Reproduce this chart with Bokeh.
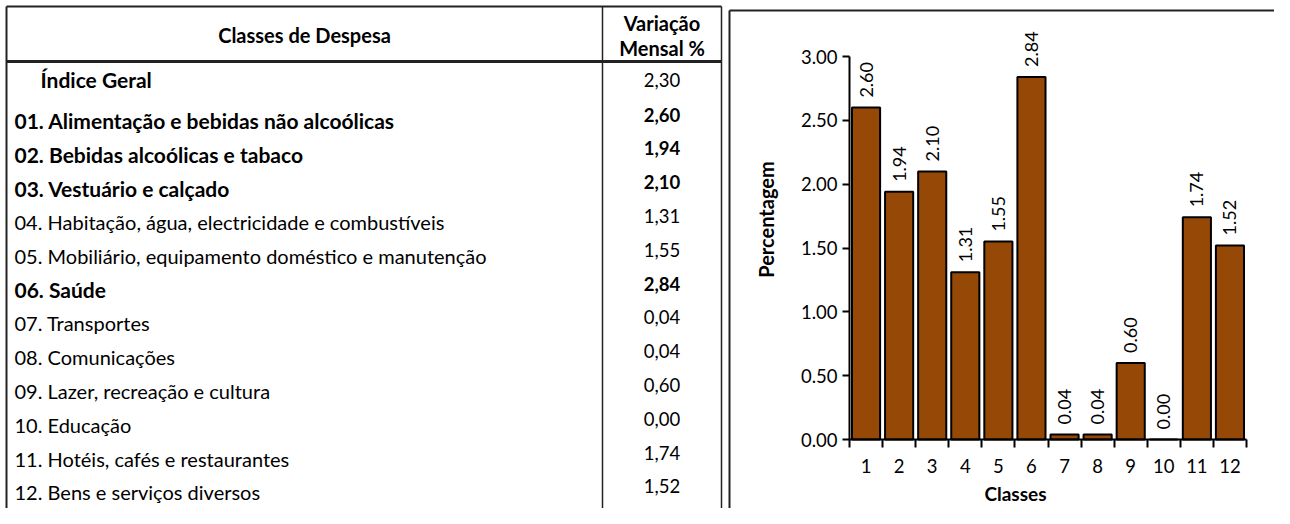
import numpy as np
from bokeh.plotting import figure
from bokeh.models import Range1d, LinearAxis, FixedTicker, ColumnDataSource, PrintfTickFormatter
from bokeh.core.properties import value
from bokeh.embed import file_html
from bokeh.resources import INLINE

# ---------------- data ----------------
header_left = "Classes de Despesa"
header_right = ["Variação", "Mensal %"]
row_labels = [
    "Índice Geral",
    "01. Alimentação e bebidas não alcoólicas",
    "02. Bebidas alcoólicas e tabaco",
    "03. Vestuário e calçado",
    "04. Habitação, água, electricidade e combustíveis",
    "05. Mobiliário, equipamento doméstico e manutenção",
    "06. Saúde",
    "07. Transportes",
    "08. Comunicações",
    "09. Lazer, recreação e cultura",
    "10. Educação",
    "11. Hotéis, cafés e restaurantes",
    "12. Bens e serviços diversos",
]
row_values = [2.30, 2.60, 1.94, 2.10, 1.31, 1.55, 2.84, 0.04, 0.04, 0.60, 0.00, 1.74, 1.52]
label_bold = [True, True, True, True, False, False, True, False, False, False, False, False, False]
value_bold = [False, True, True, True, False, False, True, False, False, False, False, False, False]

classes = ["1", "2", "3", "4", "5", "6", "7", "8", "9", "10", "11", "12"]
class_values = [2.60, 1.94, 2.10, 1.31, 1.55, 2.84, 0.04, 0.04, 0.60, 0.00, 1.74, 1.52]
y_ticks = [0.0, 0.5, 1.0, 1.5, 2.0, 2.5, 3.0]
x_title = "Classes"
y_title = "Percentagem"

# ---------------- layout (picture pixels) ----------------
W, H = 1274, 508
PX0, PY0 = 0, 0
AX_X0, AX_X1 = 849, 1246      # x of category axis start/end
AX_Y0, AX_Y3 = 439, 56        # y of 0.00 and 3.00
n = len(classes)
ux = (AX_X1 - AX_X0) / n
uy = (AX_Y0 - AX_Y3) / 3.0
x_start = 0.5 - (AX_X0 - PX0) / ux
x_end = n + 0.5 + (PX0 + W - AX_X1) / ux
y_start = -(PY0 + H - AX_Y0) / uy
y_end = 3.0 + (AX_Y3 - PY0) / uy

FONT = "Lato"
BROWN = "#964806"

p = figure(width=W, height=H, output_backend="svg", toolbar_location=None,
           x_axis_location=None, y_axis_location=None, min_border=0,
           x_range=Range1d(x_start, x_end), y_range=Range1d(y_start, y_end))
p.outline_line_color = None
p.grid.grid_line_color = None
p.background_fill_color = "white"
p.border_fill_color = "white"
p.extra_x_ranges = {"px": Range1d(PX0, PX0 + W)}
p.extra_y_ranges = {"px": Range1d(PY0 + H, PY0)}

# ---------------- table ----------------
TL, TT = 6, 6
TDIV, TR = 602, 721
THEAD = 61
PANEL_X, PANEL_Y = 729, 10
BOTTOM = PY0 + H

seg = dict(x0=[TL, TL, TL, TDIV, TR, PANEL_X, PANEL_X],
           y0=[TT, TT, THEAD, TT, TT, PANEL_Y, PANEL_Y],
           x1=[TR, TL, TR, TDIV, TR, PANEL_X, PX0 + W],
           y1=[TT, BOTTOM, THEAD, BOTTOM, BOTTOM, BOTTOM, PANEL_Y],
           w=[2, 2, 3, 1.5, 1.5, 2, 2])
p.segment(x0="x0", y0="y0", x1="x1", y1="y1", line_width="w", line_color="#222222",
          source=ColumnDataSource(seg), x_range_name="px", y_range_name="px")

p.text(x=[(TL + TDIV) / 2], y=[34], text=[header_left], text_align="center", text_baseline="middle",
       text_font=value(FONT), text_font_size="20px", text_font_style="bold", text_color="black",
       x_range_name="px", y_range_name="px")
p.text(x=[(TDIV + TR) / 2] * 2, y=[22, 47], text=header_right, text_align="center", text_baseline="middle",
       text_font=value(FONT), text_font_size="20px", text_font_style="bold", text_color="black",
       x_range_name="px", y_range_name="px")

ROW0, PITCH = 120, 33.8
lab_y = [79] + [ROW0 + i * PITCH for i in range(len(row_labels) - 1)]
val_y = [79] + [ROW0 - 6 + i * PITCH for i in range(len(row_labels) - 1)]
lab_x = [40] + [14] * (len(row_labels) - 1)
lab_src = ColumnDataSource(dict(x=lab_x, y=lab_y, t=row_labels,
                                s=["bold" if b else "normal" for b in label_bold],
                                f=["21px" if b else "20px" for b in label_bold]))
p.text(x="x", y="y", text="t", text_font_style="s", text_font_size="f", source=lab_src,
       text_align="left", text_baseline="middle", text_font=value(FONT), text_color="black",
       x_range_name="px", y_range_name="px")
val_src = ColumnDataSource(dict(x=[(TDIV + TR) / 2] * len(row_values), y=val_y,
                                t=[f"{v:.2f}".replace(".", ",") for v in row_values],
                                s=["bold" if b else "normal" for b in value_bold]))
p.text(x="x", y="y", text="t", text_font_style="s", source=val_src, text_align="center",
       text_baseline="middle", text_font=value(FONT), text_font_size="18.5px", text_color="black",
       x_range_name="px", y_range_name="px")

# ---------------- bar chart ----------------
xs = list(range(1, n + 1))
p.vbar(x=xs, top=class_values, bottom=0, width=0.85, fill_color=BROWN,
       line_color="black", line_width=2)
p.text(x=xs, y=class_values, text=[f"{v:.2f}" for v in class_values], angle=np.pi / 2,
       text_align="left", text_baseline="middle", y_offset=-10,
       text_font=value(FONT), text_font_size="18px", text_color="black")

yaxis = LinearAxis(fixed_location=0.5, bounds=(0, 3), ticker=FixedTicker(ticks=y_ticks),
                   formatter=PrintfTickFormatter(format="%.2f"))
yaxis.major_tick_out = 7
yaxis.major_tick_in = 0
yaxis.minor_tick_out = 0
yaxis.minor_tick_in = 0
yaxis.axis_line_width = 2
yaxis.major_tick_line_width = 2
yaxis.major_label_standoff = 5
yaxis.major_label_text_font = FONT
yaxis.major_label_text_font_size = "18.5px"
yaxis.major_label_text_color = "black"
p.add_layout(yaxis, "left")

xaxis = LinearAxis(fixed_location=0, bounds=(0.5, n + 0.5),
                   ticker=FixedTicker(ticks=xs, minor_ticks=[i + 0.5 for i in range(n + 1)]),
                   major_label_overrides={i: c for i, c in zip(xs, classes)})
xaxis.major_tick_out = 0
xaxis.major_tick_in = 0
xaxis.minor_tick_out = 8
xaxis.minor_tick_in = 0
xaxis.minor_tick_line_width = 2
xaxis.minor_tick_line_color = "black"
xaxis.axis_line_width = 2
xaxis.major_label_standoff = 11
xaxis.major_label_text_font = FONT
xaxis.major_label_text_font_size = "18.5px"
xaxis.major_label_text_color = "black"
p.add_layout(xaxis, "below")

p.text(x=[765], y=[219], text=[y_title], angle=np.pi / 2, text_align="center", text_baseline="middle",
       text_font=value(FONT), text_font_size="20px", text_font_style="bold", text_color="black",
       x_range_name="px", y_range_name="px")
p.text(x=[1015], y=[493], text=[x_title], text_align="center", text_baseline="middle",
       text_font=value(FONT), text_font_size="19px", text_font_style="bold", text_color="black",
       x_range_name="px", y_range_name="px")

open("out.html", "w").write(file_html(p, INLINE))
